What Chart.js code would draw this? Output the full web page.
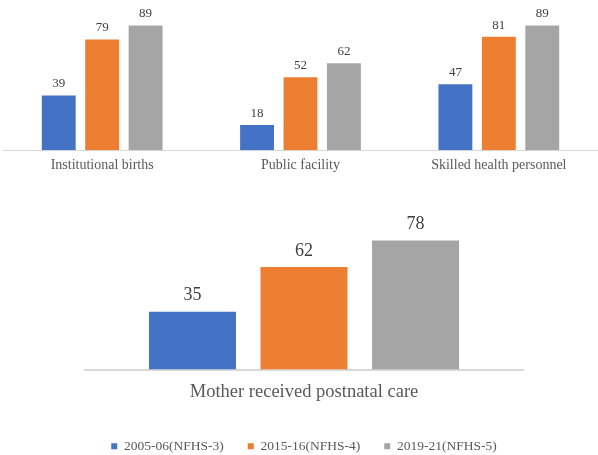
<!DOCTYPE html>
<html>
<head>
<meta charset="utf-8">
<script src="https://cdn.jsdelivr.net/npm/chart.js@4.4.1/dist/chart.umd.min.js"></script>
<style>
  html, body { margin: 0; padding: 0; background: #fff; overflow: hidden; }
  #wrap { position: relative; width: 598px; height: 455px; overflow: hidden; }
  #topBox { position: absolute; left: 0; top: 0; width: 598px; height: 193px; }
  #bottomBox { position: absolute; left: 0; top: 190px; width: 598px; height: 273px; }
</style>
</head>
<body>
<div id="wrap">
  <div id="topBox"><canvas id="topChart"></canvas></div>
  <div id="bottomBox"><canvas id="bottomChart"></canvas></div>
</div>
<script>
// data
const seriesNames = ["2005-06(NFHS-3)", "2015-16(NFHS-4)", "2019-21(NFHS-5)"];
const topCategories = ["Institutional births", "Public facility", "Skilled health personnel"];
const nfhs3Top = [39, 18, 47];
const nfhs4Top = [79, 52, 81];
const nfhs5Top = [89, 62, 89];
const bottomCategories = ["Mother received postnatal care"];
const nfhs3Bottom = [35];
const nfhs4Bottom = [62];
const nfhs5Bottom = [78];

const colors = ["#4472C4", "#ED7D31", "#A5A5A5"];
const serif = "'Liberation Serif', 'Times New Roman', serif";

// draws the value above each bar
const valueLabels = {
    id: 'valueLabels',
    afterDatasetsDraw(chart, args, opts) {
        const ctx = chart.ctx;
        ctx.save();
        ctx.font = opts.size + 'px ' + serif;
        ctx.fillStyle = '#404040';
        ctx.textAlign = 'center';
        ctx.textBaseline = 'bottom';
        chart.data.datasets.forEach((ds, i) => {
            const meta = chart.getDatasetMeta(i);
            meta.data.forEach((bar, j) => {
                ctx.fillText(ds.data[j], bar.x, bar.y - opts.offset);
            });
        });
        ctx.restore();
    }
};

function makeDatasets(a, b, c, bp) {
    return [a, b, c].map((d, i) => ({
        label: seriesNames[i],
        data: d,
        backgroundColor: colors[i],
        barPercentage: bp
    }));
}

new Chart(document.getElementById('topChart'), {
    type: 'bar',
    data: {
        labels: topCategories,
        datasets: makeDatasets(nfhs3Top, nfhs4Top, nfhs5Top, 0.78)
    },
    options: {
        responsive: true,
        maintainAspectRatio: false,
        animation: false,
        categoryPercentage: 0.657,
        layout: { padding: { top: 10, left: 3, right: 0, bottom: 12 } },
        plugins: {
            legend: { display: false },
            tooltip: { enabled: false },
            valueLabels: { size: 13, offset: 5 }
        },
        scales: {
            x: {
                grid: { display: false, drawTicks: false },
                border: { color: '#d9d9d9' },
                ticks: { color: '#595959', font: { family: serif, size: 14 }, padding: 7 }
            },
            y: { display: false, min: 0, max: 100 }
        }
    },
    plugins: [valueLabels]
});

new Chart(document.getElementById('bottomChart'), {
    type: 'bar',
    data: {
        labels: bottomCategories,
        datasets: makeDatasets(nfhs3Bottom, nfhs4Bottom, nfhs5Bottom, 0.78)
    },
    options: {
        responsive: true,
        maintainAspectRatio: false,
        animation: false,
        categoryPercentage: 0.764,
        layout: { padding: { top: 14, left: 85, right: 75, bottom: 0 } },
        plugins: {
            legend: {
                position: 'bottom',
                labels: {
                    boxWidth: 6,
                    boxHeight: 6,
                    padding: 24,
                    color: '#595959',
                    font: { family: serif, size: 13.5 }
                }
            },
            tooltip: { enabled: false },
            valueLabels: { size: 18, offset: 7 }
        },
        scales: {
            x: {
                grid: { display: false, drawTicks: false },
                border: { color: '#d9d9d9', width: 2 },
                ticks: { color: '#595959', font: { family: serif, size: 18.5, lineHeight: 1.4 }, padding: 10 }
            },
            y: { display: false, min: 0, max: 100 }
        }
    },
    plugins: [valueLabels]
});
</script>
</body>
</html>
